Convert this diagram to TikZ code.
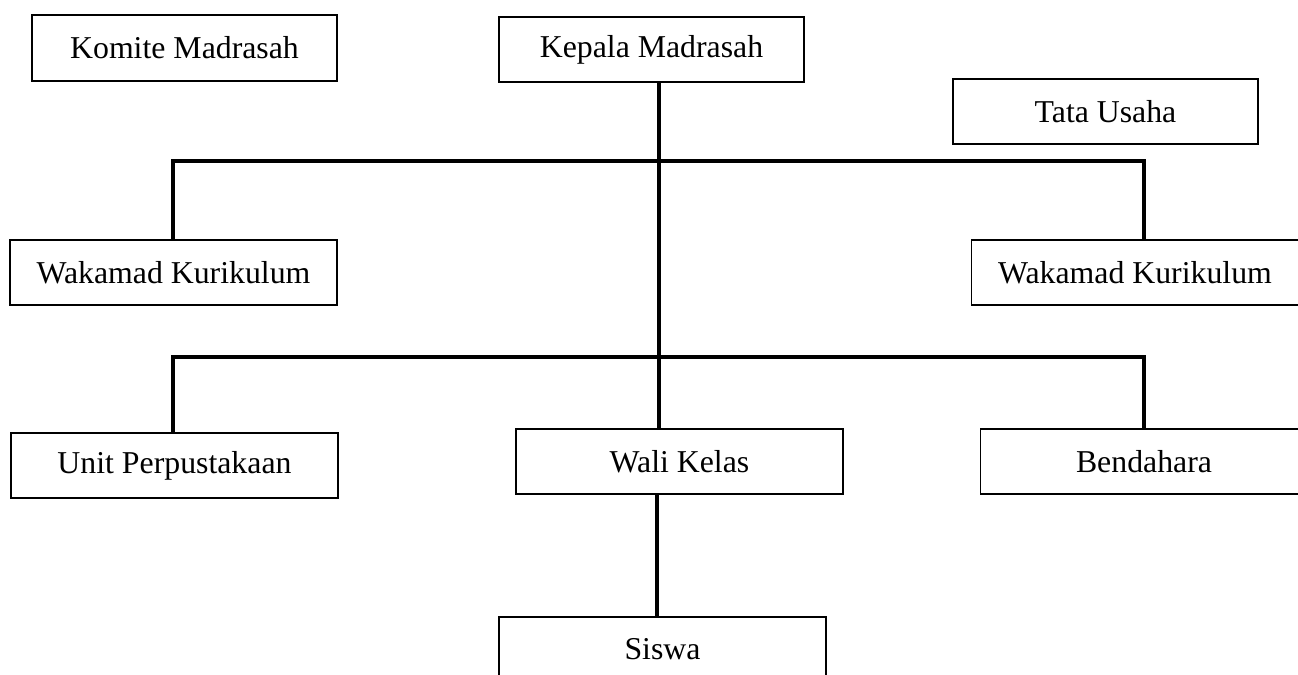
\documentclass[tikz,border=0pt]{standalone}
\usepackage{fontspec}
\setmainfont{Liberation Serif}
\usetikzlibrary{calc}
\tikzset{every node/.style={font=\fontsize{15.9pt}{19pt}\selectfont},
  orgbox/.style={draw,line width=.7pt,inner sep=0pt,outer sep=0pt,minimum height=32.5pt},
  slim/.style={orgbox,minimum width=152.5pt},
  broad/.style={orgbox,minimum width=163.5pt},
  link/.style={line width=1.8pt}}

\begin{document}
\begin{tikzpicture}[x=.5pt,y=-.5pt]
\useasboundingbox (0,0) rectangle (1298,675);
\node[slim,minimum height=33pt] (komite) at (184.5,48) {Komite Madrasah};
\node[slim] (kepala) at (651.5,49.5) {Kepala Madrasah};
\node[slim] (tata) at (1105.5,111.5) {Tata Usaha};
\node[broad] (wakL) at (173.5,272.5) {Wakamad Kurikulum};
\node[broad] (wakR) at (1135,272.5) {Wakamad Kurikulum};
\node[broad] (unit) at (174.5,465.5) {Unit Perpustakaan};
\node[broad] (wali) at (679.5,461.5) {Wali Kelas};
\node[broad] (bend) at (1144,461.5) {Bendahara};
\node[broad] (siswa) at (662.5,649.5) {Siswa};
% junctions of the two bars
\coordinate (tl) at (173,161);\coordinate (tr) at (1144,161);
\coordinate (bl) at (173,357);\coordinate (br) at (1144,357);
\coordinate (spine) at (659,0);\coordinate (stem) at (657,0);
\draw[link] (wakL.north -| tl)--(tl)--(tr)--(wakR.north -| tr);
\draw[link] (unit.north -| bl)--(bl)--(br)--(bend.north -| br);
\draw[link] (kepala.south -| spine)--(wali.north -| spine);
\draw[link] (wali.south -| stem)--(siswa.north -| stem);
\end{tikzpicture}
\end{document}
